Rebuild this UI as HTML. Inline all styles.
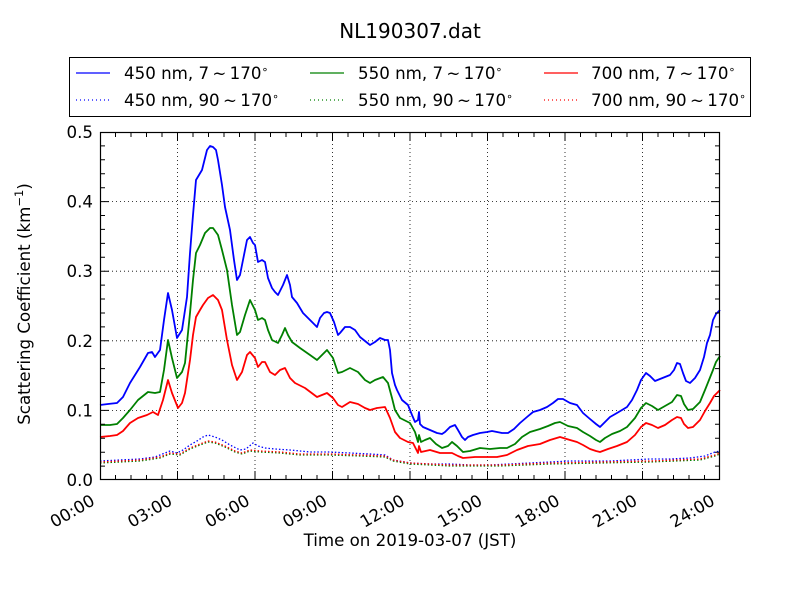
<!DOCTYPE html>
<html><head><meta charset="utf-8"><style>
html,body{margin:0;padding:0;background:#fff;}
svg{display:block;font-family:"DejaVu Sans","Liberation Sans",sans-serif;}
</style></head><body>
<svg width="800" height="600" viewBox="0 0 800 600" xmlns="http://www.w3.org/2000/svg">
<rect x="0" y="0" width="800" height="600" fill="#fff"/>
<text x="410" y="38" font-size="20" text-anchor="middle" fill="#000">NL190307.dat</text>

<!-- grid -->
<g stroke="#000" stroke-width="0.8" stroke-dasharray="1,3" fill="none">
<line x1="177.5" y1="132" x2="177.5" y2="480"/>
<line x1="255" y1="132" x2="255" y2="480"/>
<line x1="332.5" y1="132" x2="332.5" y2="480"/>
<line x1="410" y1="132" x2="410" y2="480"/>
<line x1="487.5" y1="132" x2="487.5" y2="480"/>
<line x1="565" y1="132" x2="565" y2="480"/>
<line x1="642.5" y1="132" x2="642.5" y2="480"/>
<line x1="100" y1="410.4" x2="720" y2="410.4"/>
<line x1="100" y1="340.8" x2="720" y2="340.8"/>
<line x1="100" y1="271.2" x2="720" y2="271.2"/>
<line x1="100" y1="201.6" x2="720" y2="201.6"/>
</g>

<!-- dotted series -->
<g fill="none" stroke-width="1.3" stroke-dasharray="1.5,2">
<polyline stroke="#00f" points="100,461 120,460 140,459 155,457 165,453 170,451 177,453 183,450 190,445 197,441 203,437 208,435 215,437 222,440 230,445 240,450 246,449 253,443 258,446 265,448 275,449 290,450 310,452 330,452 350,453 370,454 385,455 393,460 410,463 430,464 450,464 470,465 490,465 510,464 530,463 550,462 570,461 590,461 610,461 630,460 650,459 670,459 690,458 705,456 715,452 720,451"/>
<polyline stroke="#008000" points="100,463 140,461 160,458 170,454 180,455 190,449 200,445 208,442 215,443 225,447 235,452 242,454 250,451 260,452 280,453 300,455 330,455 360,456 385,457 393,461 410,464 450,466 500,466 550,464 600,463 650,462 700,460 715,456 720,454"/>
<polyline stroke="#f00" points="100,462 140,460 160,457 170,453 180,454 190,448 200,444 208,441 215,442 225,446 235,451 242,453 250,450 260,451 280,452 300,454 330,454 360,455 385,456 393,460 410,463 450,465 500,465 550,463 600,462 650,461 700,459 715,455 720,453"/>
</g>

<!-- solid series -->
<g fill="none" stroke-width="1.8" stroke-linejoin="round">
<polyline stroke="#00f" points="100,405 108,404 117,403 123,397 130,383 140,367 148,353 152,352 155,357 160,350 164,320 168,293 172,310 177,338 182,330 187,297 190,253 193,215 196,180 202,170 205,158 207,150 210,146 213,147 216,150 218,160 222,185 225,207 230,230 234,260 237,280 240,275 243,260 247,240 250,237 253,243 255,245 258,262 262,260 265,262 268,278 272,288 275,292 278,295 283,285 287,275 290,285 292,297 297,303 303,313 310,320 317,327 320,318 324,313 327,312 330,313 334,322 338,335 340,333 345,327 350,327 355,330 360,337 365,341 370,345 375,342 380,338 385,340 388,340 390,350 392,373 395,385 397,390 402,400 408,405 412,415 415,422 418,420 419,412 420,424 423,427 430,430 437,433 442,434 445,432 450,427 455,425 458,430 462,437 465,440 468,437 473,435 480,433 487,432 492,431 497,432 502,433 508,433 514,429 520,423 527,417 533,412 540,410 547,407 553,403 558,399 563,399 570,403 577,405 583,413 590,419 596,424 600,427 605,422 610,417 617,413 622,410 627,407 632,400 637,390 641,380 646,373 650,376 655,381 660,379 665,377 670,375 674,370 677,363 680,364 683,373 686,381 690,383 695,378 700,370 704,357 707,343 710,335 713,320 716,314 718,312 720,310"/>
<polyline stroke="#008000" points="100,425 110,425 117,424 123,418 130,410 138,400 148,392 155,393 160,392 164,370 168,340 172,358 177,378 182,372 185,363 190,313 193,280 196,253 200,245 205,233 210,228 213,228 218,235 222,250 227,270 232,305 237,335 240,332 245,315 250,300 255,310 258,320 262,318 265,320 268,330 272,340 278,343 282,335 285,328 288,335 292,342 300,348 310,355 317,360 322,355 327,350 333,358 338,373 342,372 350,368 358,372 365,380 370,383 375,380 383,377 388,383 392,398 395,410 400,418 410,423 415,432 418,442 419,435 421,442 425,440 430,438 436,444 442,448 448,446 452,442 457,446 463,452 470,451 480,448 490,449 500,448 507,448 515,444 522,437 530,432 540,429 548,426 555,423 560,422 568,426 577,428 583,432 590,436 596,440 600,442 605,438 612,434 620,431 627,427 635,418 641,408 646,403 652,406 658,410 665,406 672,402 677,395 681,396 684,404 688,410 693,409 700,402 705,390 709,380 713,370 716,362 720,356"/>
<polyline stroke="#f00" points="100,437 110,436 117,435 123,431 130,423 138,418 147,415 153,412 158,415 163,400 168,380 172,393 178,408 182,403 185,393 190,360 193,335 196,317 200,310 203,305 208,298 213,295 218,300 222,310 227,340 232,365 237,380 242,372 247,355 250,352 255,358 258,367 262,362 265,362 270,372 275,375 280,370 285,368 290,378 295,383 305,388 317,397 322,395 327,393 333,398 338,405 342,407 350,402 358,404 365,408 370,410 377,408 385,407 390,418 395,432 400,438 408,442 413,443 416,449 418,453 419,446 421,452 430,450 440,453 452,453 458,456 463,458 475,457 487,457 497,457 507,455 517,450 528,446 540,444 550,440 560,437 570,440 577,442 583,445 590,449 596,451 600,452 608,449 617,446 627,442 635,435 641,427 646,423 652,425 658,428 665,425 672,420 677,417 681,418 684,424 688,428 693,427 700,420 705,411 710,403 714,396 718,392 720,390"/>
</g>

<!-- ticks -->
<g stroke="#000" stroke-width="1" fill="none">
<path d="M177.5,480v-9M255,480v-9M332.5,480v-9M410,480v-9M487.5,480v-9M565,480v-9M642.5,480v-9
M177.5,132v9M255,132v9M332.5,132v9M410,132v9M487.5,132v9M565,132v9M642.5,132v9
M100,410.4h9M100,340.8h9M100,271.2h9M100,201.6h9
M720,410.4h-9M720,340.8h-9M720,271.2h-9M720,201.6h-9"/>
<path d="M115.5,480v-5M131,480v-5M146.5,480v-5M162,480v-5M193,480v-5M208.5,480v-5M224,480v-5M239.5,480v-5M270.5,480v-5M286,480v-5M301.5,480v-5M317,480v-5M348,480v-5M363.5,480v-5M379,480v-5M394.5,480v-5M425.5,480v-5M441,480v-5M456.5,480v-5M472,480v-5M503,480v-5M518.5,480v-5M534,480v-5M549.5,480v-5M580.5,480v-5M596,480v-5M611.5,480v-5M627,480v-5M658,480v-5M673.5,480v-5M689,480v-5M704.5,480v-5
M115.5,132v5M131,132v5M146.5,132v5M162,132v5M193,132v5M208.5,132v5M224,132v5M239.5,132v5M270.5,132v5M286,132v5M301.5,132v5M317,132v5M348,132v5M363.5,132v5M379,132v5M394.5,132v5M425.5,132v5M441,132v5M456.5,132v5M472,132v5M503,132v5M518.5,132v5M534,132v5M549.5,132v5M580.5,132v5M596,132v5M611.5,132v5M627,132v5M658,132v5M673.5,132v5M689,132v5M704.5,132v5
M100,466.1h5M100,452.2h5M100,438.2h5M100,424.3h5M100,396.5h5M100,382.6h5M100,368.6h5M100,354.7h5M100,326.9h5M100,313h5M100,299h5M100,285.1h5M100,257.3h5M100,243.4h5M100,229.4h5M100,215.5h5M100,187.7h5M100,173.8h5M100,159.8h5M100,145.9h5
M720,466.1h-5M720,452.2h-5M720,438.2h-5M720,424.3h-5M720,396.5h-5M720,382.6h-5M720,368.6h-5M720,354.7h-5M720,326.9h-5M720,313h-5M720,299h-5M720,285.1h-5M720,257.3h-5M720,243.4h-5M720,229.4h-5M720,215.5h-5M720,187.7h-5M720,173.8h-5M720,159.8h-5M720,145.9h-5"/>
<rect x="100.5" y="132.5" width="619" height="347" stroke-width="1.2"/>
</g>

<!-- y tick labels -->
<g font-size="16.67" text-anchor="end" fill="#000">
<text x="93" y="486">0.0</text>
<text x="93" y="416.4">0.1</text>
<text x="93" y="346.8">0.2</text>
<text x="93" y="277.2">0.3</text>
<text x="93" y="207.6">0.4</text>
<text x="93" y="138">0.5</text>
</g>

<!-- x tick labels -->
<g font-size="16.67" text-anchor="end" fill="#000">
<text transform="translate(96,504) rotate(-30)">00:00</text>
<text transform="translate(173.5,504) rotate(-30)">03:00</text>
<text transform="translate(251,504) rotate(-30)">06:00</text>
<text transform="translate(328.5,504) rotate(-30)">09:00</text>
<text transform="translate(406,504) rotate(-30)">12:00</text>
<text transform="translate(483.5,504) rotate(-30)">15:00</text>
<text transform="translate(561,504) rotate(-30)">18:00</text>
<text transform="translate(638.5,504) rotate(-30)">21:00</text>
<text transform="translate(716,504) rotate(-30)">24:00</text>
</g>

<text x="410" y="546" font-size="16.67" text-anchor="middle" fill="#000">Time on 2019-03-07 (JST)</text>
<text transform="translate(30,304) rotate(-90)" font-size="16.67" text-anchor="middle" fill="#000">Scattering Coefficient (km<tspan font-size="11.5" dy="-7">−1</tspan><tspan dy="7">)</tspan></text>

<!-- legend -->
<rect x="69.5" y="57.5" width="681" height="59" fill="#fff" stroke="#000" stroke-width="1"/>
<g stroke-width="1.2">
<line x1="76" y1="73" x2="110" y2="73" stroke="#00f"/>
<line x1="310" y1="73" x2="344" y2="73" stroke="#008000"/>
<line x1="544" y1="73" x2="578" y2="73" stroke="#f00"/>
<line x1="76" y1="100" x2="110" y2="100" stroke="#00f" stroke-dasharray="1,3"/>
<line x1="310" y1="100" x2="344" y2="100" stroke="#008000" stroke-dasharray="1,3"/>
<line x1="544" y1="100" x2="578" y2="100" stroke="#f00" stroke-dasharray="1,3"/>
</g>
<g font-size="16.67" fill="#000">
<text x="124" y="79">450 nm, 7&#8201;∼&#8201;170<tspan font-size="11" dy="-6">∘</tspan></text>
<text x="358" y="79">550 nm, 7&#8201;∼&#8201;170<tspan font-size="11" dy="-6">∘</tspan></text>
<text x="591" y="79">700 nm, 7&#8201;∼&#8201;170<tspan font-size="11" dy="-6">∘</tspan></text>
<text x="124" y="106">450 nm, 90&#8201;∼&#8201;170<tspan font-size="11" dy="-6">∘</tspan></text>
<text x="358" y="106">550 nm, 90&#8201;∼&#8201;170<tspan font-size="11" dy="-6">∘</tspan></text>
<text x="591" y="106">700 nm, 90&#8201;∼&#8201;170<tspan font-size="11" dy="-6">∘</tspan></text>
</g>
</svg>
</body></html>
